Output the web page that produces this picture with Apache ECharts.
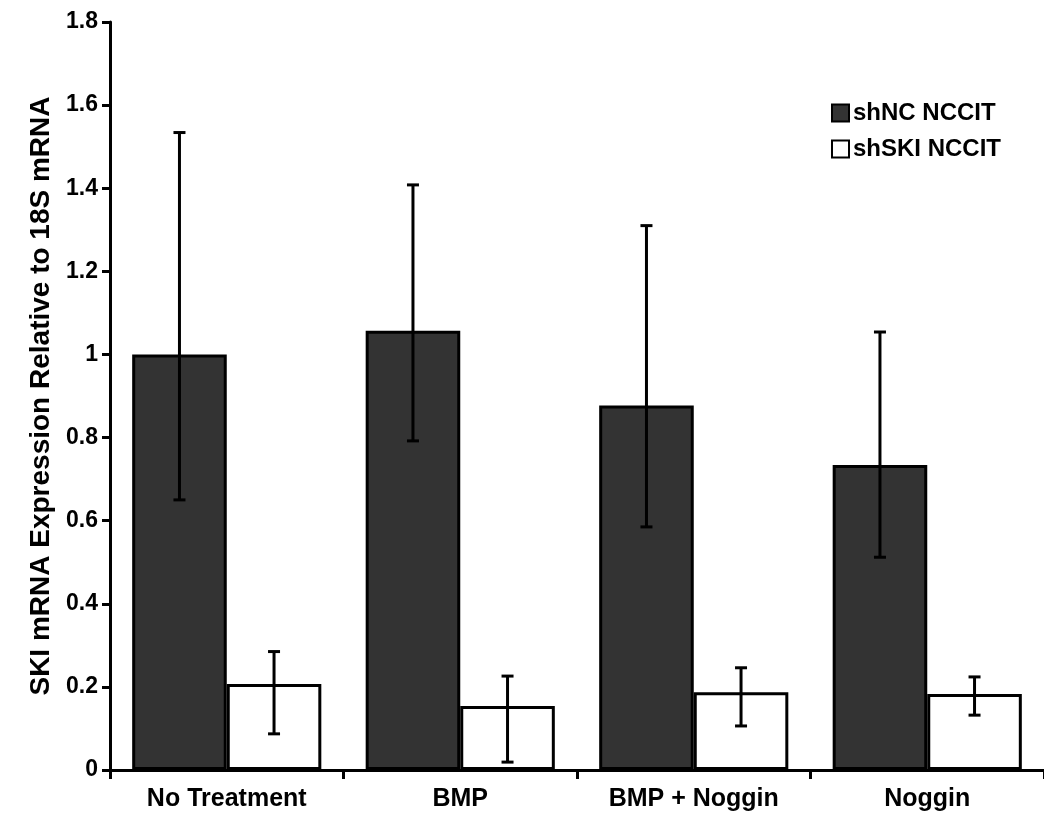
<!DOCTYPE html>
<html>
<head>
<meta charset="utf-8">
<script src="https://cdn.jsdelivr.net/npm/echarts@6/dist/echarts.min.js"></script>
<style>
  html, body { margin: 0; padding: 0; background: #fff; }
  #chart { width: 1044px; height: 823px; }
</style>
</head>
<body>
<div id="chart"></div>
<script>
var categories = ['No Treatment', 'BMP', 'BMP + Noggin', 'Noggin'];
var seriesNames = ['shNC NCCIT', 'shSKI NCCIT'];
var shNC = [1.0, 1.057, 0.877, 0.734];
var shNCLow = [0.65, 0.792, 0.585, 0.512];
var shNCHigh = [1.534, 1.408, 1.31, 1.054];
var shSKI = [0.207, 0.154, 0.187, 0.183];
var shSKILow = [0.087, 0.019, 0.106, 0.132];
var shSKIHigh = [0.285, 0.226, 0.246, 0.224];
var yTicks = [0, 0.2, 0.4, 0.6, 0.8, 1, 1.2, 1.4, 1.6, 1.8];

var FONT = 'Liberation Sans, Arial, sans-serif';
var CAT_GAP = 0.19;

var chart = echarts.init(document.getElementById('chart'));

function errorSeries(low, high, side) {
  var data = [];
  for (var i = 0; i < categories.length; i++) {
    data.push([i, low[i], high[i]]);
  }
  return {
    type: 'custom',
    z: 10,
    silent: true,
    data: data,
    encode: { x: 0, y: [1, 2] },
    renderItem: function (params, api) {
      var band = api.size([1, 0])[0];
      var barW = band * (1 - CAT_GAP) / 2;
      var lo = api.coord([api.value(0), api.value(1)]);
      var hi = api.coord([api.value(0), api.value(2)]);
      var x = lo[0] + side * barW / 2;
      var cap = 6;
      var st = { stroke: '#000', lineWidth: 3 };
      return {
        type: 'group',
        children: [
          { type: 'line', shape: { x1: x, y1: lo[1], x2: x, y2: hi[1] }, style: st },
          { type: 'line', shape: { x1: x - cap, y1: lo[1], x2: x + cap, y2: lo[1] }, style: st },
          { type: 'line', shape: { x1: x - cap, y1: hi[1], x2: x + cap, y2: hi[1] }, style: st }
        ]
      };
    }
  };
}

var option = {
  backgroundColor: '#fff',
  animation: false,
  grid: {
    left: 110,
    right: 0,
    top: 22,
    bottom: 53
  },
  legend: {
    data: seriesNames,
    orient: 'vertical',
    left: 826,
    top: 96,
    itemWidth: 17,
    itemHeight: 17,
    itemGap: 12,
    icon: 'rect',
    textStyle: {
      fontFamily: FONT,
      fontWeight: 'bold',
      fontSize: 24,
      color: '#000',
      padding: [0, 0, 0, -1]
    }
  },
  xAxis: {
    type: 'category',
    data: categories,
    axisLine: { lineStyle: { color: '#000', width: 3 } },
    axisTick: { show: true, length: 9, lineStyle: { color: '#000', width: 3 } },
    axisLabel: {
      margin: 17,
      fontFamily: FONT,
      fontWeight: 'bold',
      fontSize: 25,
      color: '#000'
    },
    splitLine: { show: false }
  },
  yAxis: {
    type: 'value',
    min: 0,
    max: 1.8,
    interval: 0.2,
    name: 'SKI mRNA Expression Relative to 18S mRNA',
    nameLocation: 'middle',
    nameRotate: 90,
    nameGap: 55,
    nameTextStyle: {
      fontFamily: FONT,
      fontWeight: 'bold',
      fontSize: 28,
      color: '#000'
    },
    axisLine: { show: true, lineStyle: { color: '#000', width: 3 } },
    axisTick: { show: true, length: 8, lineStyle: { color: '#000', width: 3 } },
    axisLabel: {
      margin: 12,
      fontFamily: FONT,
      fontWeight: 'bold',
      fontSize: 23,
      color: '#000',
      formatter: function (v) {
        var s = Math.round(v * 10) / 10;
        return yTicks.indexOf(s) >= 0 ? String(s) : '';
      }
    },
    splitLine: { show: false }
  },
  series: [
    {
      name: seriesNames[0],
      type: 'bar',
      data: shNC,
      barGap: '0%',
      barCategoryGap: (CAT_GAP * 100) + '%',
      itemStyle: { color: '#333333', borderColor: '#000', borderWidth: 3 }
    },
    {
      name: seriesNames[1],
      type: 'bar',
      data: shSKI,
      itemStyle: { color: '#ffffff', borderColor: '#000', borderWidth: 3 }
    },
    errorSeries(shNCLow, shNCHigh, -1),
    errorSeries(shSKILow, shSKIHigh, 1)
  ]
};

chart.setOption(option);
</script>
</body>
</html>
